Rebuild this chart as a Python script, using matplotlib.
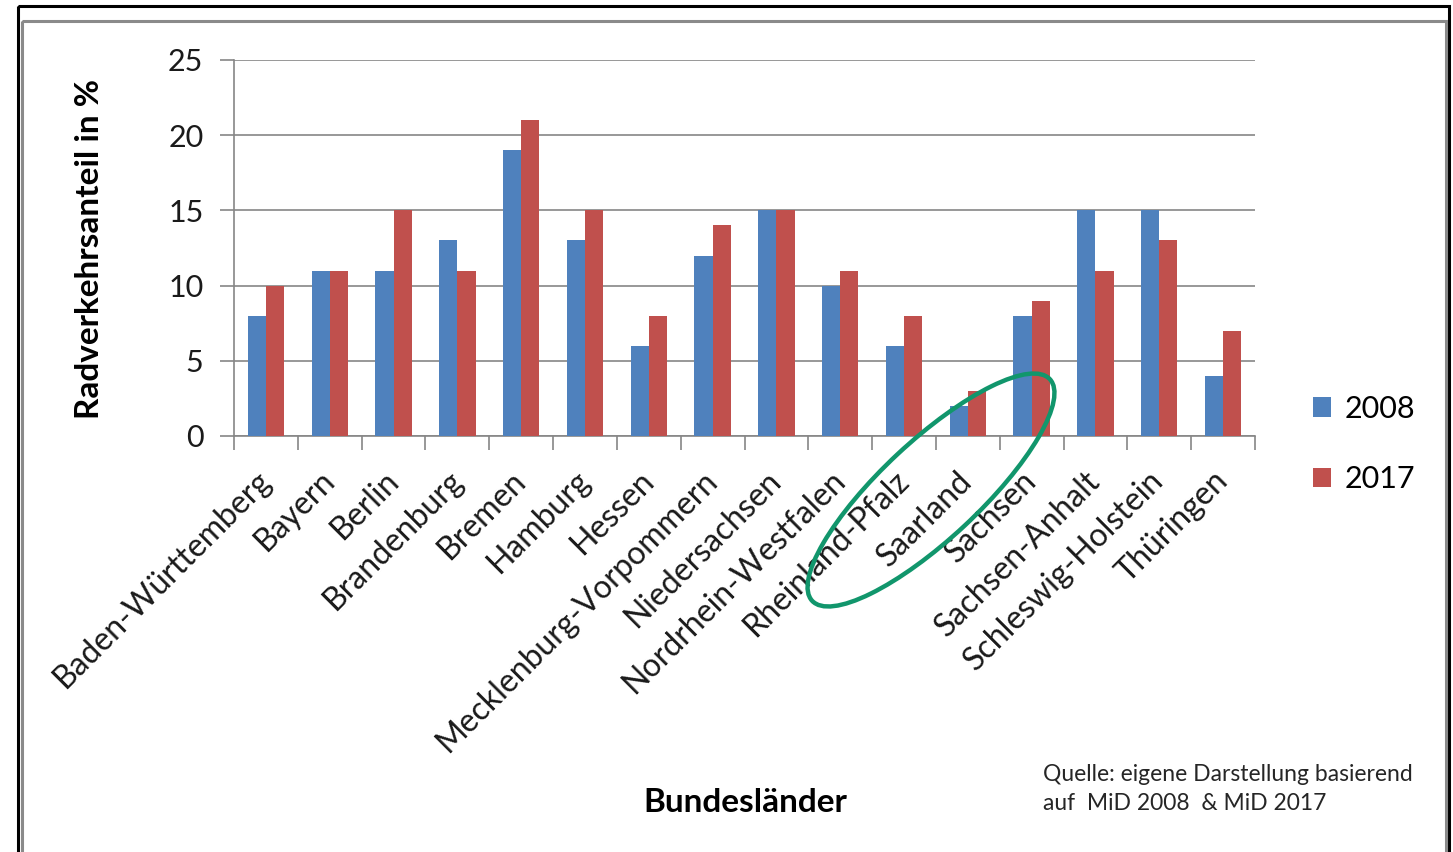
import matplotlib.pyplot as plt
import numpy as np
from matplotlib.patches import Ellipse, Rectangle

# Radverkehrsanteil je Bundesland (MiD 2008 / MiD 2017)
laender = ["Baden-Württemberg", "Bayern", "Berlin", "Brandenburg", "Bremen",
           "Hamburg", "Hessen", "Mecklenburg-Vorpommern", "Niedersachsen",
           "Nordrhein-Westfalen", "Rheinland-Pfalz", "Saarland", "Sachsen",
           "Sachsen-Anhalt", "Schleswig-Holstein", "Thüringen"]
werte_2008 = [8, 11, 11, 13, 19, 13, 6, 12, 15, 10, 6, 2, 8, 15, 15, 4]
werte_2017 = [10, 11, 15, 11, 21, 15, 8, 14, 15, 11, 8, 3, 9, 11, 13, 7]
serien = ["2008", "2017"]

plt.rcParams['font.family'] = ['Lato', 'DejaVu Sans']

W, H = 1453, 852
fig = plt.figure(figsize=(W / 100, H / 100), dpi=100)
ax = fig.add_axes([234 / W, 1 - 436 / H, (1255 - 234) / W, (436 - 60) / H])

x = np.arange(len(laender))
bw = 0.285
ax.bar(x - bw / 2, werte_2008, bw, color='#4F81BD', label=serien[0], zorder=3)
ax.bar(x + bw / 2, werte_2017, bw, color='#C0504D', label=serien[1], zorder=3)

ax.set_xlim(-0.5, len(laender) - 0.5)
ax.set_ylim(0, 25)
ax.set_yticks(range(0, 26, 5))
ax.yaxis.grid(True, color='#868686', lw=1.2, zorder=0)

ax.set_xticks(x)
ax.set_xticklabels(laender, rotation=45, ha='right', va='center',
                   rotation_mode='anchor', fontsize=23, color='#1a1a1a')
ax.set_xticks(np.arange(-0.5, len(laender)), minor=True)
ax.tick_params(axis='x', which='major', length=0, pad=29)
ax.tick_params(axis='x', which='minor', length=10, width=1.2, color='#868686')
ax.tick_params(axis='y', length=10, width=1.2, color='#868686', labelsize=22,
               labelcolor='#1a1a1a', pad=12)

for s in ['top', 'right']:
    ax.spines[s].set_visible(False)
for s in ['left', 'bottom']:
    ax.spines[s].set_color('#868686')
    ax.spines[s].set_linewidth(1.2)

fig.text(90 / W, 1 - 249 / H, "Radverkehrsanteil in %", rotation=90,
         ha='center', va='center', fontsize=24, fontweight='bold')
fig.text(745 / W, 1 - 802 / H, "Bundesländer", ha='center', va='center',
         fontsize=24, fontweight='bold')
fig.text(1043 / W, 1 - 764 / H, "Quelle: eigene Darstellung basierend\nauf  MiD 2008  & MiD 2017",
         ha='left', va='top', fontsize=16.5, color='#262626', linespacing=1.45)

fig.legend(loc='center left', bbox_to_anchor=(1285 / W, 1 - 444 / H),
           frameon=False, fontsize=22, handlelength=0.6, handleheight=0.6,
           handletextpad=0.45, labelspacing=1.4)

# overlay in pixel coordinates for frame and highlight
ov = fig.add_axes([0, 0, 1, 1], facecolor='none')
ov.set_xlim(0, W)
ov.set_ylim(H, 0)
ov.axis('off')
ov.add_patch(Rectangle((18, 6), 1431, 900, fill=False, ec='black', lw=2.2))
ov.add_patch(Rectangle((22, 21), 1424, 900, fill=False, ec='#8a8a8a', lw=2.2))
ov.add_patch(Ellipse((931, 490), 325, 98, angle=-43, fill=False,
                     ec='#11966c', lw=3.2))

fig.savefig("out.png", dpi=100)
